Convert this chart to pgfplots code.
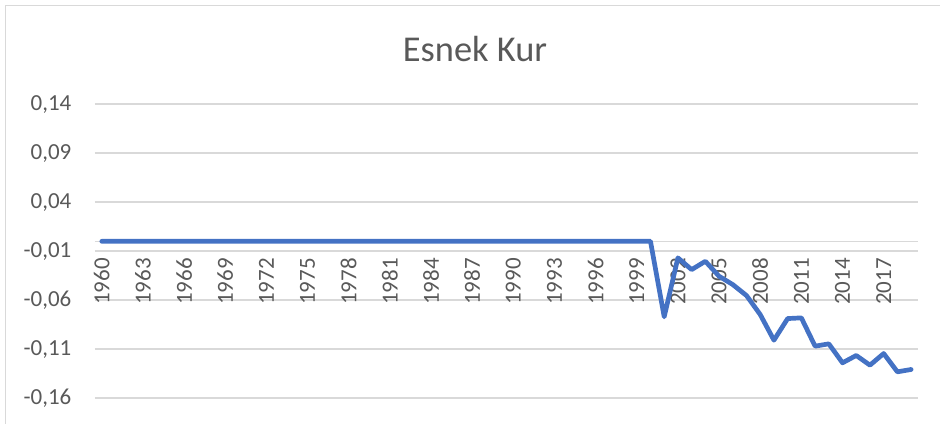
\documentclass[border=0pt]{standalone}
\usepackage{fontspec}
\setmainfont{Carlito}
\usepackage{pgfplots}
\pgfplotsset{compat=1.18}
\definecolor{excelblue}{HTML}{4472C4}
\definecolor{gridgray}{HTML}{D9D9D9}
\definecolor{textgray}{HTML}{595959}
\begin{document}
\begin{tikzpicture}
\begin{axis}[
  set layers,
  at={(47.5pt,12.85pt)}, anchor=south west,
  scale only axis, width=411.85pt, height=147pt,
  xmin=-0.5, xmax=59.5, ymin=-0.16, ymax=0.14,
  axis x line=middle, axis y line=left,
  x axis line style={-, draw=gridgray, line width=0.75pt},
  y axis line style={draw=none},
  major tick length=0pt,
  tick style={draw=none},
  ymajorgrids, grid style={gridgray, line width=0.75pt},
  ytick={-0.16,-0.11,-0.06,-0.01,0.04,0.09,0.14},
  yticklabels={{-0,16},{-0,11},{-0,06},{-0,01},{0,04},{0,09},{0,14}},
  xtick={0,3,6,9,12,15,18,21,24,27,30,33,36,39,42,45,48,51,54,57},
  xticklabels={1960,1963,1966,1969,1972,1975,1978,1981,1984,1987,1990,1993,1996,1999,2002,2005,2008,2011,2014,2017},
  ticklabel style={font=\fontsize{11.5}{13}\selectfont, text=textgray},
  yticklabel style={anchor=east, inner xsep=11.6pt, inner ysep=0pt},
  xticklabel style={rotate=90, anchor=east, inner xsep=8.2pt, inner ysep=0pt},
  clip=false,
]
\addplot[excelblue, line width=2.35pt, line join=round, line cap=round] table[x=x, y=y] {
x y
0 0
1 0
2 0
3 0
4 0
5 0
6 0
7 0
8 0
9 0
10 0
11 0
12 0
13 0
14 0
15 0
16 0
17 0
18 0
19 0
20 0
21 0
22 0
23 0
24 0
25 0
26 0
27 0
28 0
29 0
30 0
31 0
32 0
33 0
34 0
35 0
36 0
37 0
38 0
39 0
40 0
41 -0.0771
42 -0.0169
43 -0.0289
44 -0.0204
45 -0.0357
46 -0.0442
47 -0.0554
48 -0.0748
49 -0.1010
50 -0.0789
51 -0.0782
52 -0.1071
53 -0.1047
54 -0.1241
55 -0.1166
56 -0.1265
57 -0.1146
58 -0.1333
59 -0.1309
};
\end{axis}
\draw[gridgray, line width=0.75pt] (2.75pt,0) -- (2.75pt,209.25pt) -- (470.5pt,209.25pt);
\node[anchor=base, text=textgray, font=\fontsize{18.2}{21}\selectfont, inner sep=0pt] at (237.7pt,181.15pt) {Esnek Kur};
\path (0,0) rectangle (470.5pt,212pt);
\end{tikzpicture}
\end{document}
